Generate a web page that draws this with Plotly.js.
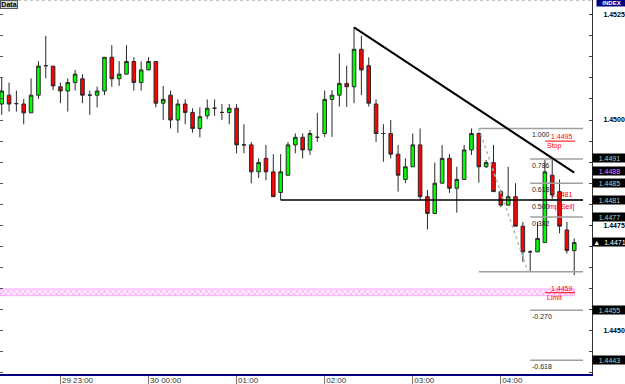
<!DOCTYPE html>
<html>
<head>
<meta charset="utf-8">
<script src="https://cdn.plot.ly/plotly-3.0.1.min.js"></script>
<style>html,body{margin:0;padding:0;background:#fff;}#chart{width:625px;height:384px;}</style>
</head>
<body>
<div id="chart"></div>
<script>
// 5-minute bars, 29 22:20 -> 30 04:50
const times = ["22:20","22:25","22:30","22:35","22:40","22:45","22:50","22:55",
"23:00","23:05","23:10","23:15","23:20","23:25","23:30","23:35","23:40","23:45","23:50","23:55",
"00:00","00:05","00:10","00:15","00:20","00:25","00:30","00:35","00:40","00:45","00:50","00:55",
"01:00","01:05","01:10","01:15","01:20","01:25","01:30","01:35","01:40","01:45","01:50","01:55",
"02:00","02:05","02:10","02:15","02:20","02:25","02:30","02:35","02:40","02:45","02:50","02:55",
"03:00","03:05","03:10","03:15","03:20","03:25","03:30","03:35","03:40","03:45","03:50","03:55",
"04:00","04:05","04:10","04:15","04:20","04:25","04:30","04:35","04:40","04:45","04:50"];

const openP = [1.45038,1.45059,1.45039,1.45038,1.45017,1.45059,1.45129,1.45128,1.45079,1.45069,
1.45089,1.45098,1.45059,1.45059,1.45069,1.45149,1.45098,1.45109,1.45139,1.45089,
1.45119,1.45139,1.45040,1.45059,1.45000,1.45038,1.45018,1.44980,1.45010,1.45028,
1.45018,1.45018,1.45028,1.44941,1.44941,1.44877,1.44909,1.44877,1.44828,1.44869,
1.44941,1.44959,1.44929,1.44959,1.44968,1.45049,1.45059,1.45087,1.45079,1.45168,
1.45129,1.45038,1.44968,1.44968,1.44919,1.44859,1.44889,1.44941,1.44818,1.44778,
1.44850,1.44909,1.44838,1.44859,1.44929,1.44968,1.44889,1.44899,1.44830,1.44798,
1.44818,1.44748,1.44687,1.44687,1.44709,1.44869,1.44830,1.44739,1.44690];

const highP = [1.45100,1.45089,1.45070,1.45050,1.45099,1.45140,1.45200,1.45128,1.45089,1.45099,
1.45119,1.45109,1.45070,1.45079,1.45149,1.45178,1.45140,1.45178,1.45149,1.45139,
1.45149,1.45139,1.45081,1.45070,1.45049,1.45049,1.45028,1.45030,1.45049,1.45049,
1.45038,1.45038,1.45038,1.44990,1.44948,1.44909,1.44941,1.44919,1.44919,1.44948,
1.44968,1.44968,1.44976,1.45017,1.45070,1.45071,1.45158,1.45129,1.45220,1.45200,
1.45149,1.45049,1.44990,1.45000,1.44941,1.44909,1.44968,1.44980,1.44834,1.44899,
1.44941,1.44919,1.44889,1.44941,1.44980,1.44971,1.44905,1.44941,1.44834,1.44889,
1.44850,1.44758,1.44691,1.44758,1.44905,1.44907,1.44859,1.44758,1.44719];

const lowP = [1.45012,1.45020,1.45020,1.44990,1.45017,1.45050,1.45099,1.45071,1.45040,1.45020,
1.45070,1.45040,1.45012,1.45030,1.45059,1.45079,1.45081,1.45109,1.45070,1.45070,
1.45119,1.45030,1.45000,1.44980,1.44970,1.44990,1.44970,1.44959,1.45002,1.45010,
1.45000,1.44990,1.44921,1.44921,1.44850,1.44862,1.44857,1.44818,1.44810,1.44869,
1.44921,1.44909,1.44917,1.44948,1.44960,1.44960,1.45032,1.45031,1.45040,1.45059,
1.45032,1.44948,1.44901,1.44909,1.44830,1.44850,1.44889,1.44810,1.44740,1.44778,
1.44850,1.44827,1.44780,1.44859,1.44917,1.44851,1.44886,1.44830,1.44793,1.44796,
1.44748,1.44663,1.44640,1.44687,1.44709,1.44812,1.44731,1.44683,1.44632];

const closeP = [1.45069,1.45038,1.45039,1.45017,1.45059,1.45128,1.45129,1.45081,1.45069,1.45089,
1.45109,1.45059,1.45059,1.45069,1.45149,1.45098,1.45109,1.45139,1.45089,1.45119,
1.45139,1.45040,1.45049,1.45000,1.45038,1.45018,1.44980,1.45008,1.45028,1.45028,
1.45018,1.45028,1.44941,1.44941,1.44877,1.44899,1.44877,1.44818,1.44877,1.44941,
1.44959,1.44929,1.44968,1.44959,1.45049,1.45059,1.45087,1.45079,1.45168,1.45119,
1.45040,1.44968,1.44968,1.44919,1.44869,1.44889,1.44941,1.44818,1.44778,1.44850,
1.44909,1.44838,1.44859,1.44929,1.44968,1.44889,1.44899,1.44830,1.44798,1.44818,
1.44748,1.44687,1.44687,1.44719,1.44877,1.44822,1.44748,1.44690,1.44709];

// x-axis tick labels
const hourTicks = ["23:00","00:00","01:00","02:00","03:00","04:00"];
const hourLabels = ["29 23:00","30 00:00","01:00","02:00","03:00","04:00"];

// drawing objects
const fibHigh = 1.4498, fibLow = 1.4464;
const fibLevels = [1.000, 0.786, 0.618, 0.500, 0.382, 0, -0.270, -0.618];
const fibLabels = ["1.000","0.786","0.618","0.500","0.382","","-0.270","-0.618"];
const trendTimes = ["02:20","04:50"], trendPrices = [1.45220, 1.44875];
const supportTimes = ["01:30","04:56"], supportPrice = 1.4481;
const stopPrice = 1.4495, limitPrice = 1.4459, entryPrice = 1.4481;
const limitBand = [1.44583, 1.44599];
const tagValues = [1.4491, 1.4488, 1.4485, 1.4481, 1.4477, 1.4471, 1.4455, 1.4443];
const tagColors = ["#a6d8c8","#ff77ff","#a6d8c8","#a6d8c8","#a6d8c8","#ffffff","#a6d8c8","#a6d8c8"];

function ts(t, sec) {
  const day = (t >= "22:00") ? "2011-03-29 " : "2011-03-30 ";
  return day + t + ":" + (sec || "00");
}
const xs = times.map(t => ts(t));

const FONT = "Liberation Sans, Arial, sans-serif";
const X0 = ts("22:18","50"), X1 = ts("05:02","06");

const traces = [];
// limit band (hatched)
traces.push({
  type: "scatter", mode: "lines", hoverinfo: "skip", showlegend: false,
  x: [X0, ts("04:50"), ts("04:50"), X0, X0],
  y: [limitBand[0], limitBand[0], limitBand[1], limitBand[1], limitBand[0]],
  fill: "toself", fillcolor: "#ffe0ff",
  fillpattern: {shape: "x", fgcolor: "#ff88ff", bgcolor: "#fff0ff", size: 4, solidity: 0.3},
  line: {color: "#ff99ff", width: 0.8}
});
traces.push({
  type: "candlestick", x: xs, open: openP, high: highP, low: lowP, close: closeP,
  increasing: {fillcolor: "#00ff00", line: {color: "#2a2a2a", width: 1}},
  decreasing: {fillcolor: "#ff0000", line: {color: "#2a2a2a", width: 1}},
  whiskerwidth: 0, hoverinfo: "skip", showlegend: false
});
traces.push({type: "scatter", x: [null], y: [null], yaxis: "y2", hoverinfo: "skip", showlegend: false});

const shapes = [];
const annotations = [];
// fib lines
fibLevels.forEach((lv, i) => {
  const p = fibLow + lv * (fibHigh - fibLow);
  const long = (lv === 1 || lv === 0);
  shapes.push({type: "line", xref: "x", yref: "y", x0: ts(long ? "03:45" : "04:20"), x1: ts("04:56"),
    y0: p, y1: p, line: {color: "#a0a0a0", width: 1.5}});
  if (fibLabels[i]) annotations.push({xref: "x", yref: "y", x: ts("04:20"), y: p, text: fibLabels[i],
    showarrow: false, xanchor: "left", yanchor: "top", font: {family: FONT, size: 7, color: "#222"}, yshift: -1});
});
// fib diagonal
shapes.push({type: "line", xref: "x", yref: "y", x0: ts("03:45"), y0: fibHigh, x1: ts("04:18","30"), y1: fibLow,
  line: {color: "#b8b8b8", width: 1.5, dash: "dot"}});
// trend line and support line
shapes.push({type: "line", xref: "x", yref: "y", x0: ts(trendTimes[0]), y0: trendPrices[0], x1: ts(trendTimes[1]), y1: trendPrices[1],
  line: {color: "#000", width: 2}});
shapes.push({type: "line", xref: "x", yref: "y", x0: ts(supportTimes[0]), y0: supportPrice, x1: ts(supportTimes[1]), y1: supportPrice,
  line: {color: "#000", width: 1.5}});
// order lines
[[stopPrice, "1.4495", "Stop"], [limitPrice, "1.4459", "Limit"]].forEach(o => {
  shapes.push({type: "line", xref: "x", yref: "y", x0: ts("04:30","15"), x1: ts("04:50","30"), y0: o[0], y1: o[0],
    line: {color: "#ff0000", width: 1}});
  annotations.push({xref: "x", yref: "y", x: ts("04:50","30"), y: o[0], text: o[1], showarrow: false,
    xanchor: "right", yanchor: "bottom", font: {family: FONT, size: 7, color: "#ff0000"}, yshift: -1});
  annotations.push({xref: "x", yref: "y", x: ts("04:30","15"), y: o[0], text: o[2], showarrow: false,
    xanchor: "left", yanchor: "top", font: {family: FONT, size: 7, color: "#ff0000"}, yshift: 1});
});
annotations.push({xref: "x", yref: "y", x: ts("04:50","30"), y: entryPrice, text: "1.4481", showarrow: false,
  xanchor: "right", yanchor: "bottom", font: {family: FONT, size: 7, color: "#ff0000"}, yshift: 0});
annotations.push({xref: "x", yref: "y", x: ts("04:52"), y: entryPrice, text: "[Sell]", showarrow: false,
  xanchor: "right", yanchor: "top", font: {family: FONT, size: 7, color: "#ff0000"}, yshift: -1});
annotations.push({xref: "x", yref: "y", x: ts("04:31","40"), y: entryPrice, text: "mp", showarrow: false,
  xanchor: "left", yanchor: "top", font: {family: FONT, size: 7, color: "#ff0000"}, yshift: -1});
// price tags on right axis
tagValues.forEach((v, i) => {
  annotations.push({xref: "paper", yref: "y", x: 1, y: v, xanchor: "left", yanchor: "middle",
    text: (i === 5 ? "\u25B2  " : "") + v.toFixed(4), showarrow: false, bgcolor: "#000", borderpad: 0,
    width: 33, height: 8, align: "center", font: {family: FONT, size: 7, color: tagColors[i]}, xshift: 0});
});
// Data box
annotations.push({xref: "paper", yref: "paper", x: 0, y: 1, xanchor: "left", yanchor: "top",
  text: "<b>Data</b>", showarrow: false, bgcolor: "#d6d6d6", bordercolor: "#555", borderwidth: 1, borderpad: 0,
  width: 16, height: 7, font: {family: FONT, size: 7, color: "#000"}});
// INDEX box
annotations.push({xref: "paper", yref: "paper", x: 1, y: 1, xanchor: "left", yanchor: "top", xshift: 4, yshift: 2,
  text: "<b>INDEX</b>", showarrow: false, bgcolor: "#000080", borderpad: 0, width: 29, height: 7,
  font: {family: FONT, size: 6, color: "#fff"}});
// top dotted border
shapes.push({type: "line", xref: "paper", yref: "paper", x0: 0, x1: 1, y0: 1, y1: 1, line: {color: "#888", width: 1, dash: "dot"}});

const yr = [1.44397, 1.45285];
const layout = {
  width: 625, height: 384,
  margin: {l: 0, r: 33, t: 0, b: 10, pad: 0},
  paper_bgcolor: "#fff", plot_bgcolor: "#fff",
  showlegend: false, hovermode: false,
  font: {family: FONT, size: 8, color: "#222"},
  xaxis: {
    type: "date", range: [X0, X1],
    rangeslider: {visible: false}, showgrid: false, zeroline: false,
    tickmode: "array", tickvals: hourTicks.map(t => ts(t)), ticktext: hourLabels,
    ticks: "outside", ticklen: 10, tickcolor: "#777", tickwidth: 1,
    ticklabelposition: "outside right", ticklabelstandoff: -3,
    tickfont: {family: FONT, size: 8, color: "#333"},
    showline: true, linecolor: "#000080", linewidth: 2, fixedrange: true
  },
  yaxis: {
    side: "right", range: yr, showgrid: false, zeroline: false,
    tickmode: "linear", tick0: 1.4450, dtick: 0.0025, tickformat: ".4f",
    ticks: "inside", ticklen: 3, tickcolor: "#444",
    minor: {dtick: 0.0005, ticks: "inside", ticklen: 3, tickcolor: "#444", showgrid: false},
    tickfont: {family: FONT, size: 7, color: "#000", weight: "bold"},
    ticklabelstandoff: 9,
    showline: true, linecolor: "#333", linewidth: 1, fixedrange: true
  },
  yaxis2: {
    overlaying: "y", side: "left", range: yr, showgrid: false, zeroline: false,
    tickmode: "linear", tick0: 1.4450, dtick: 0.0005, ticks: "inside", ticklen: 3, tickcolor: "#555",
    showticklabels: false, showline: true, linecolor: "#777", linewidth: 1, fixedrange: true
  },
  shapes: shapes, annotations: annotations
};
Plotly.newPlot("chart", traces, layout, {staticPlot: true, displayModeBar: false});
</script>
</body>
</html>
